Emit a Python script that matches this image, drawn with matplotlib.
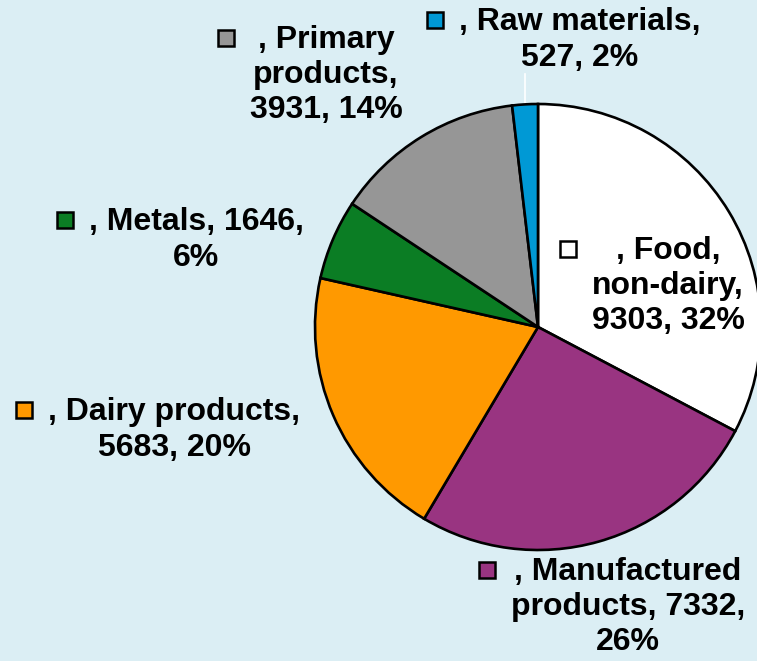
import textwrap
import numpy as np
import matplotlib
matplotlib.use("Agg")
from matplotlib import pyplot as plt
from matplotlib.patches import Rectangle

plt.rcParams['font.family'] = ['Liberation Sans', 'DejaVu Sans']

# export mix by category
categories = ["Food, non-dairy", "Manufactured products", "Dairy products",
              "Metals", "Primary products", "Raw materials"]
values = [9303, 7332, 5683, 1646, 3931, 527]
percents = [32, 26, 20, 6, 14, 2]
colors = ["#ffffff", "#993481", "#ff9900", "#0b7d24", "#969696", "#0099d5"]

# label layout: wrap width and block centre (pixels from top-left)
wrap_widths = [10, 15, 17, 15, 10, 16]
label_pos = [(668, 286), (628, 607), (174, 430), (196, 240), (326, 75), (580, 40)]

W, H = 757, 661
bg = "#dbeef4"

fig = plt.figure(figsize=(W / 100, H / 100), dpi=100, facecolor=bg)
ax = fig.add_axes([0, 0, 1, 1])
ax.set_facecolor(bg)

cx, cy, r = 538, H - 327, 223
wedges, _ = ax.pie(values, colors=colors, startangle=90, counterclock=False,
                   center=(cx, cy), radius=r,
                   wedgeprops=dict(edgecolor="black", linewidth=1.9))
ax.set_xlim(0, W)
ax.set_ylim(0, H)
ax.set_aspect("equal")
ax.axis("off")

texts = []
for name, v, p, w, (px, py) in zip(categories, values, percents, wrap_widths, label_pos):
    s = textwrap.fill(f", {name}, {v}, {p}%", width=w)
    t = ax.text(px, H - py, s, ha="center", va="center", multialignment="center",
                fontsize=23, fontweight="bold", color="black", linespacing=1.22)
    texts.append(t)

# leader line for the small raw-materials slice
raw = wedges[-1]
mid = np.deg2rad((raw.theta1 + raw.theta2) / 2)
ex, ey = cx + r * np.cos(mid), cy + r * np.sin(mid)
ax.plot([ex, ex], [ey, H - 74], color="white", lw=1.2, zorder=0.5)

# legend keys to the left of each label block
fig.canvas.draw()
renderer = fig.canvas.get_renderer()
inv = ax.transData.inverted()
for t, c in zip(texts, colors):
    bb = t.get_window_extent(renderer)
    nlines = t.get_text().count("\n") + 1
    lh = bb.height / nlines
    x0, _ = inv.transform((bb.x0, 0))
    _, ytop = inv.transform((0, bb.y1))
    yc = ytop - lh * 0.38
    ax.add_patch(Rectangle((x0 - 32, yc - 8), 16, 16, facecolor=c,
                           edgecolor="black", lw=1.8, zorder=3))

fig.savefig("out.png", dpi=100, facecolor=bg)
